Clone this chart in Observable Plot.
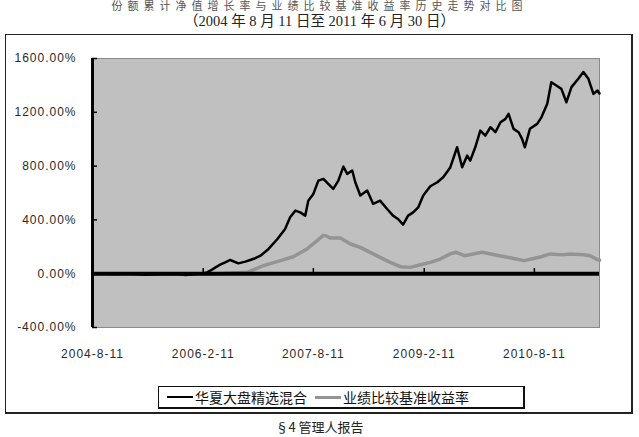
<!DOCTYPE html>
<html><head><meta charset="utf-8">
<script src="https://cdn.jsdelivr.net/npm/d3@7"></script>
<script src="https://cdn.jsdelivr.net/npm/@observablehq/plot@0.6"></script>
<style>
body{margin:0;width:639px;height:437px;overflow:hidden;background:#fff;position:relative;font-family:"Liberation Serif","Noto Sans CJK SC",serif;color:#222;}
#t1{position:absolute;left:0;width:639px;top:0px;text-align:center;font-size:11px;line-height:12px;letter-spacing:5px;color:#555;white-space:nowrap;}
#t2{position:absolute;left:0;width:639px;top:13px;text-align:center;font-size:14.5px;line-height:17px;color:#222;white-space:nowrap;}
#frame{position:absolute;left:5px;top:34px;width:625px;height:377px;border:1.5px solid #222;border-right-width:2.5px;border-bottom-width:2.5px;}
#chart{position:absolute;left:0;top:0;}
#chart svg text{letter-spacing:1px;}
#legend{position:absolute;left:158px;top:386px;width:364px;height:20px;border:1.5px solid #111;border-right-width:2.5px;border-bottom-width:2.5px;background:#fff;display:flex;align-items:center;font-family:"Noto Sans CJK SC",sans-serif;font-size:14px;line-height:20px;color:#111;}
.sw{display:inline-block;width:26px;height:0;margin:0 2px 0 8px;}
#foot{position:absolute;left:0;width:639px;top:418px;text-align:center;font-family:"Noto Sans CJK SC",sans-serif;font-size:13px;line-height:18px;color:#222;}
</style>
</head><body>
<div id="t1"></div>
<div id="t2"></div>
<div id="frame"></div>
<div id="chart"></div>
<div id="legend"></div>
<div id="foot"></div>
<script>
const titleLine1 = "份额累计净值增长率与业绩比较基准收益率历史走势对比图";
const titleLine2 = "（2004 年 8 月 11 日至 2011 年 6 月 30 日）";
const footerText = "§4 管理人报告";
const seriesNames = ["华夏大盘精选混合", "业绩比较基准收益率"];
const seriesColors = ["#000000", "#949494"];

const fundDates = ["2004-08-11","2004-09-20","2004-12-03","2005-02-17","2005-04-30","2005-07-13","2005-09-26","2005-11-15","2006-01-04","2006-02-08","2006-02-23","2006-03-18","2006-04-11","2006-05-06","2006-05-31","2006-06-25","2006-08-04","2006-09-08","2006-10-02","2006-10-27","2006-11-22","2007-01-01","2007-02-14","2007-03-24","2007-04-18","2007-05-14","2007-06-07","2007-07-02","2007-07-17","2007-08-11","2007-09-05","2007-09-30","2007-10-24","2007-11-18","2007-12-13","2008-01-07","2008-01-26","2008-02-20","2008-03-06","2008-03-31","2008-05-04","2008-06-03","2008-07-07","2008-08-11","2008-09-09","2008-10-04","2008-10-29","2008-11-23","2008-12-18","2009-01-12","2009-02-06","2009-03-13","2009-04-17","2009-05-16","2009-06-20","2009-07-24","2009-08-18","2009-09-12","2009-09-27","2009-10-22","2009-11-16","2009-12-11","2010-01-05","2010-01-30","2010-02-24","2010-03-21","2010-04-05","2010-04-30","2010-05-25","2010-06-11","2010-06-25","2010-07-20","2010-08-25","2010-09-14","2010-10-14","2010-11-03","2010-11-28","2010-12-23","2011-01-17","2011-02-11","2011-03-17","2011-04-11","2011-05-06","2011-05-31","2011-06-20","2011-06-30"];
const fundValues = [0,1,-3,2,-8,-3,0,-10,-3,3,5,22,45,67,85,102,77,90,102,115,134,184,258,333,419,469,456,432,543,593,692,705,668,630,692,796,742,767,680,581,618,519,543,481,432,407,365,432,456,493,581,650,680,717,790,940,791,878,841,940,1064,1027,1089,1052,1126,1151,1188,1077,1052,1002,940,1077,1114,1160,1263,1424,1399,1374,1275,1387,1449,1499,1449,1337,1362,1340];

const benchDates = ["2004-08-11","2005-02-17","2005-09-01","2006-01-29","2006-04-23","2006-09-17","2006-12-07","2007-03-01","2007-05-03","2007-07-11","2007-08-30","2007-09-30","2007-10-15","2007-11-02","2007-12-23","2008-02-11","2008-03-31","2008-05-19","2008-07-07","2008-08-26","2008-10-16","2008-12-04","2009-01-23","2009-03-13","2009-05-01","2009-06-20","2009-07-20","2009-08-29","2009-11-25","2010-02-19","2010-06-22","2010-09-14","2010-10-29","2010-12-26","2011-02-06","2011-04-11","2011-05-14","2011-06-20","2011-06-30"];
const benchValues = [0,-3,-5,-2,0,10,60,97,126,184,246,285,280,266,266,221,196,159,121,84,52,47,67,84,109,147,159,134,159,134,97,126,147,140,147,141,134,105,100];

const xTickDates = ["2004-08-11","2006-02-11","2007-08-11","2009-02-11","2010-08-11"];
const xTickLabels = ["2004-8-11","2006-2-11","2007-8-11","2009-2-11","2010-8-11"];
const yTicks = [-400, 0, 400, 800, 1200, 1600];
const xRange = ["2004-08-11","2011-06-30"];

const parse = d3.utcParse("%Y-%m-%d");
const fund = fundDates.map((d,i)=>({date:parse(d), value:fundValues[i]}));
const bench = benchDates.map((d,i)=>({date:parse(d), value:benchValues[i]}));
const xt = xTickDates.map(parse);
const labelMap = new Map(xt.map((d,i)=>[+d, xTickLabels[i]]));
const xDom = xRange.map(parse);

const chart = Plot.plot({
  width: 639, height: 437,
  marginLeft: 92, marginRight: 40, marginTop: 58, marginBottom: 110,
  style: {background:"transparent", fontFamily:"'Liberation Sans', Arial, sans-serif", fontSize:"12px", color:"#2a2a2a"},
  x: {type:"utc", domain: xDom, label: null},
  y: {domain: [-400, 1600], label: null},
  marks: [
    Plot.frame({fill:"#c0c0c0", stroke:"#8a8a8a"}),
    Plot.line(bench, {x:"date", y:"value", stroke: seriesColors[1], strokeWidth: 3.5}),
    Plot.ruleY([0], {stroke:"#000", strokeWidth: 4}),
    Plot.line(fund, {x:"date", y:"value", stroke: seriesColors[0], strokeWidth: 2.5}),
    Plot.ruleX(xt.slice(1), {y1: 0, y2: 38, stroke:"#000", strokeWidth: 1.5}),
    Plot.ruleX([xDom[0]], {stroke:"#000", strokeWidth: 3}),
    Plot.axisY(yTicks, {tickSize: -5, tickFormat: () => "", stroke:"#000", strokeWidth: 1.5, label: null}),
    Plot.axisY(yTicks, {tickSize: 0, tickPadding: 16, tickFormat: d => d.toFixed(2) + "%", label: null}),
    Plot.axisX(xt, {anchor:"bottom", tickSize: 0, tickPadding: 22, tickFormat: d => labelMap.get(+d), label: null})
  ]
});
document.getElementById("chart").appendChild(chart);

document.getElementById("t1").textContent = titleLine1;
document.getElementById("t2").textContent = titleLine2;
document.getElementById("foot").textContent = footerText;
const lg = document.getElementById("legend");
seriesNames.forEach((n,i)=>{
  const s = document.createElement("span");
  s.className = "sw";
  s.style.borderTop = (i===0 ? "2px" : "3px") + " solid " + seriesColors[i];
  lg.appendChild(s);
  const t = document.createElement("span");
  t.textContent = n;
  lg.appendChild(t);
});
</script>
</body></html>
